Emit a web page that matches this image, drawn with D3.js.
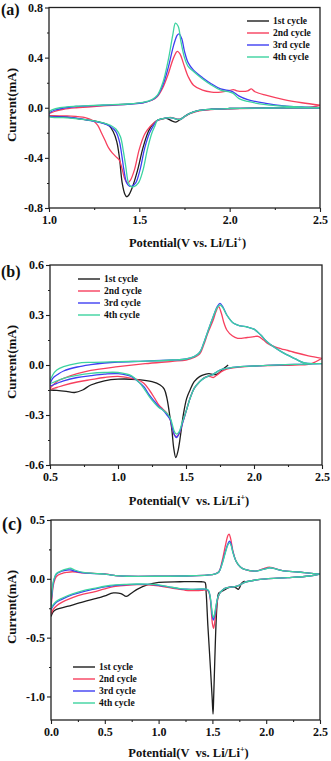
<!DOCTYPE html>
<html>
<head>
<meta charset="utf-8">
<script src="https://cdn.jsdelivr.net/npm/d3@7"></script>
<style>
  html, body { margin: 0; padding: 0; background: #fff; }
  svg { display: block; font-family: "Liberation Serif", "Times New Roman", serif; font-weight: bold; }
</style>
</head>
<body>
<svg width="331" height="761"></svg>
<script>
const CYCLES = ['1st cycle', '2nd cycle', '3rd cycle', '4th cycle'];
const COLORS = ['#1e1e1e', '#f7405e', '#3e3ef2', '#3dd3a0'];

// ---------- panel (a) : [potential V, current mA], scan order ----------
const a1 = [[2.5,0.0],[2.2,-0.002],[2.0,-0.006],[1.9,-0.012],[1.82,-0.025],[1.78,-0.045],[1.75,-0.07],[1.72,-0.1],[1.70,-0.115],[1.68,-0.105],[1.65,-0.085],[1.62,-0.09],[1.6,-0.1],[1.57,-0.14],[1.55,-0.19],[1.52,-0.32],[1.49,-0.5],[1.46,-0.64],[1.44,-0.7],[1.43,-0.71],[1.42,-0.69],[1.405,-0.6],[1.39,-0.4],[1.375,-0.27],[1.355,-0.19],[1.33,-0.14],[1.28,-0.115],[1.2,-0.095],[1.1,-0.075],[1.0,-0.065]];
const a2 = [[2.5,0.02],[2.45,0.005],[2.3,-0.002],[2.0,-0.008],[1.9,-0.014],[1.82,-0.028],[1.78,-0.048],[1.75,-0.072],[1.73,-0.09],[1.71,-0.09],[1.68,-0.078],[1.65,-0.08],[1.62,-0.092],[1.6,-0.1],[1.56,-0.15],[1.53,-0.21],[1.5,-0.33],[1.472,-0.5],[1.45,-0.58],[1.435,-0.6],[1.42,-0.57],[1.405,-0.49],[1.39,-0.42],[1.37,-0.39],[1.35,-0.36],[1.33,-0.32],[1.31,-0.26],[1.29,-0.2],[1.27,-0.14],[1.24,-0.1],[1.2,-0.078],[1.1,-0.065],[1.0,-0.06],[1.0,-0.05],[1.03,-0.03],[1.08,-0.012],[1.15,0.0],[1.3,0.015],[1.45,0.03],[1.52,0.04],[1.57,0.06],[1.6,0.09],[1.63,0.16],[1.66,0.27],[1.69,0.4],[1.71,0.45],[1.725,0.43],[1.745,0.35],[1.77,0.25],[1.8,0.18],[1.85,0.14],[1.9,0.125],[1.95,0.125],[2.0,0.138],[2.02,0.145],[2.04,0.135],[2.07,0.13],[2.1,0.135],[2.12,0.15],[2.14,0.128],[2.2,0.1],[2.3,0.065],[2.4,0.04],[2.5,0.02]];
const a3 = [[2.5,0.0],[2.2,-0.002],[2.0,-0.006],[1.9,-0.012],[1.82,-0.025],[1.78,-0.045],[1.75,-0.07],[1.73,-0.09],[1.71,-0.092],[1.68,-0.08],[1.65,-0.08],[1.62,-0.09],[1.6,-0.1],[1.575,-0.15],[1.557,-0.2],[1.53,-0.32],[1.503,-0.5],[1.48,-0.6],[1.46,-0.625],[1.445,-0.625],[1.43,-0.6],[1.415,-0.5],[1.405,-0.4],[1.39,-0.27],[1.37,-0.19],[1.34,-0.15],[1.3,-0.125],[1.2,-0.095],[1.1,-0.075],[1.0,-0.065],[1.0,-0.045],[1.03,-0.02],[1.08,-0.002],[1.15,0.01],[1.3,0.02],[1.45,0.03],[1.52,0.04],[1.57,0.062],[1.6,0.095],[1.63,0.18],[1.66,0.32],[1.69,0.5],[1.71,0.58],[1.72,0.59],[1.735,0.55],[1.75,0.45],[1.77,0.36],[1.8,0.3],[1.85,0.24],[1.9,0.19],[1.95,0.15],[2.0,0.135],[2.02,0.125],[2.05,0.095],[2.1,0.065],[2.2,0.035],[2.3,0.015],[2.4,0.006],[2.5,0.0]];
const a4 = [[2.5,0.0],[2.2,-0.002],[2.0,-0.006],[1.9,-0.012],[1.82,-0.025],[1.78,-0.045],[1.75,-0.07],[1.73,-0.09],[1.71,-0.092],[1.68,-0.08],[1.65,-0.08],[1.62,-0.09],[1.6,-0.1],[1.585,-0.15],[1.57,-0.2],[1.545,-0.33],[1.52,-0.5],[1.495,-0.6],[1.47,-0.63],[1.455,-0.63],[1.44,-0.6],[1.425,-0.47],[1.412,-0.35],[1.395,-0.23],[1.37,-0.17],[1.34,-0.14],[1.3,-0.12],[1.2,-0.095],[1.1,-0.08],[1.0,-0.07],[1.0,-0.035],[1.02,-0.015],[1.06,0.0],[1.15,0.012],[1.3,0.022],[1.45,0.032],[1.52,0.042],[1.57,0.065],[1.6,0.1],[1.63,0.2],[1.66,0.38],[1.685,0.58],[1.70,0.675],[1.715,0.65],[1.73,0.53],[1.75,0.4],[1.77,0.33],[1.8,0.29],[1.85,0.23],[1.9,0.18],[1.95,0.14],[2.0,0.125],[2.02,0.115],[2.05,0.075],[2.1,0.05],[2.2,0.025],[2.3,0.012],[2.4,0.005],[2.5,0.0]];

// ---------- panel (b) ----------
const b1 = [[1.81,0.0],[1.78,-0.02],[1.76,-0.035],[1.73,-0.055],[1.70,-0.058],[1.67,-0.052],[1.64,-0.056],[1.6,-0.07],[1.56,-0.1],[1.53,-0.15],[1.505,-0.2],[1.48,-0.3],[1.46,-0.42],[1.44,-0.52],[1.425,-0.555],[1.41,-0.5],[1.395,-0.38],[1.38,-0.3],[1.36,-0.2],[1.34,-0.145],[1.31,-0.12],[1.25,-0.1],[1.15,-0.088],[1.0,-0.085],[0.9,-0.095],[0.8,-0.12],[0.74,-0.15],[0.68,-0.165],[0.62,-0.158],[0.55,-0.152],[0.5,-0.15]];
const b2 = [[2.5,0.04],[2.45,0.018],[2.4,0.004],[2.3,0.0],[2.1,-0.003],[2.0,-0.006],[1.9,-0.012],[1.8,-0.025],[1.76,-0.04],[1.72,-0.065],[1.7,-0.075],[1.68,-0.07],[1.65,-0.07],[1.62,-0.085],[1.6,-0.1],[1.56,-0.14],[1.53,-0.2],[1.5,-0.28],[1.47,-0.36],[1.45,-0.41],[1.43,-0.43],[1.415,-0.42],[1.4,-0.38],[1.385,-0.33],[1.36,-0.29],[1.33,-0.265],[1.3,-0.24],[1.27,-0.2],[1.23,-0.15],[1.19,-0.11],[1.15,-0.09],[1.1,-0.08],[1.0,-0.068],[0.9,-0.075],[0.8,-0.088],[0.7,-0.102],[0.6,-0.122],[0.55,-0.135],[0.5,-0.145],[0.55,-0.1],[0.6,-0.08],[0.7,-0.052],[0.8,-0.032],[1.0,-0.01],[1.2,0.008],[1.4,0.022],[1.5,0.03],[1.56,0.045],[1.6,0.065],[1.63,0.12],[1.66,0.19],[1.7,0.27],[1.72,0.32],[1.74,0.35],[1.76,0.31],[1.78,0.25],[1.8,0.21],[1.84,0.175],[1.88,0.16],[1.95,0.165],[2.0,0.17],[2.03,0.172],[2.07,0.15],[2.1,0.13],[2.15,0.11],[2.2,0.097],[2.25,0.087],[2.3,0.075],[2.4,0.055],[2.5,0.04]];
const b3 = [[2.5,0.008],[2.3,0.004],[2.1,-0.002],[2.0,-0.006],[1.9,-0.01],[1.8,-0.02],[1.75,-0.03],[1.72,-0.045],[1.69,-0.06],[1.66,-0.068],[1.63,-0.08],[1.6,-0.1],[1.56,-0.14],[1.53,-0.2],[1.5,-0.28],[1.47,-0.36],[1.45,-0.41],[1.43,-0.435],[1.415,-0.42],[1.4,-0.38],[1.385,-0.33],[1.36,-0.3],[1.33,-0.27],[1.3,-0.25],[1.27,-0.22],[1.23,-0.18],[1.19,-0.13],[1.15,-0.1],[1.1,-0.07],[1.0,-0.052],[0.9,-0.055],[0.8,-0.064],[0.7,-0.075],[0.6,-0.095],[0.55,-0.11],[0.5,-0.125],[0.52,-0.08],[0.56,-0.055],[0.6,-0.036],[0.7,-0.012],[0.8,0.002],[0.9,0.012],[1.0,0.018],[1.2,0.023],[1.4,0.03],[1.5,0.036],[1.56,0.05],[1.6,0.075],[1.63,0.13],[1.66,0.2],[1.7,0.29],[1.73,0.35],[1.75,0.37],[1.77,0.35],[1.8,0.3],[1.85,0.25],[1.9,0.235],[1.95,0.228],[2.0,0.215],[2.05,0.18],[2.1,0.136],[2.2,0.08],[2.3,0.038],[2.37,0.012],[2.45,0.008],[2.5,0.008]];
const b4 = [[2.5,0.008],[2.3,0.004],[2.1,-0.002],[2.0,-0.006],[1.9,-0.01],[1.8,-0.02],[1.75,-0.03],[1.72,-0.045],[1.69,-0.06],[1.66,-0.068],[1.63,-0.08],[1.6,-0.1],[1.56,-0.14],[1.53,-0.2],[1.5,-0.28],[1.47,-0.35],[1.45,-0.4],[1.43,-0.415],[1.415,-0.4],[1.4,-0.36],[1.385,-0.32],[1.36,-0.29],[1.33,-0.27],[1.3,-0.255],[1.27,-0.23],[1.23,-0.19],[1.19,-0.14],[1.15,-0.1],[1.1,-0.065],[1.0,-0.045],[0.9,-0.045],[0.8,-0.05],[0.7,-0.062],[0.6,-0.08],[0.55,-0.095],[0.5,-0.11],[0.52,-0.06],[0.55,-0.03],[0.6,-0.01],[0.7,0.01],[0.8,0.016],[1.0,0.02],[1.2,0.023],[1.4,0.03],[1.5,0.036],[1.56,0.05],[1.6,0.075],[1.63,0.13],[1.66,0.2],[1.7,0.29],[1.73,0.345],[1.75,0.36],[1.77,0.345],[1.8,0.3],[1.85,0.25],[1.9,0.235],[1.95,0.228],[2.0,0.215],[2.05,0.18],[2.1,0.136],[2.2,0.08],[2.3,0.038],[2.37,0.012],[2.45,0.008],[2.5,0.008]];

// ---------- panel (c) ----------
const c1 = [[1.8,-0.02],[1.77,-0.04],[1.755,-0.07],[1.74,-0.09],[1.725,-0.08],[1.7,-0.068],[1.65,-0.075],[1.6,-0.1],[1.56,-0.12],[1.545,-0.2],[1.533,-0.4],[1.522,-0.7],[1.512,-1.0],[1.506,-1.15],[1.497,-1.0],[1.478,-0.7],[1.458,-0.4],[1.442,-0.12],[1.431,-0.03],[1.4,-0.025],[1.2,-0.025],[1.0,-0.03],[0.9,-0.05],[0.8,-0.09],[0.75,-0.12],[0.7,-0.15],[0.65,-0.125],[0.58,-0.12],[0.5,-0.145],[0.45,-0.16],[0.3,-0.195],[0.15,-0.235],[0.05,-0.26],[0.02,-0.28],[0.0,-0.32]];
const c2 = [[2.5,0.04],[2.4,0.024],[2.2,0.01],[2.0,0.0],[1.9,-0.01],[1.8,-0.03],[1.76,-0.05],[1.72,-0.065],[1.68,-0.07],[1.64,-0.075],[1.6,-0.09],[1.57,-0.12],[1.55,-0.17],[1.535,-0.26],[1.52,-0.38],[1.51,-0.42],[1.5,-0.38],[1.49,-0.28],[1.48,-0.17],[1.465,-0.11],[1.445,-0.095],[1.4,-0.098],[1.35,-0.1],[1.3,-0.1],[1.25,-0.097],[1.2,-0.09],[1.1,-0.075],[1.0,-0.06],[0.9,-0.052],[0.8,-0.05],[0.7,-0.055],[0.6,-0.065],[0.5,-0.085],[0.4,-0.11],[0.3,-0.13],[0.2,-0.16],[0.1,-0.2],[0.05,-0.23],[0.02,-0.26],[0.0,-0.3],[0.01,-0.15],[0.025,-0.04],[0.05,0.02],[0.1,0.045],[0.15,0.055],[0.2,0.06],[0.25,0.055],[0.3,0.05],[0.4,0.046],[0.5,0.042],[0.55,0.035],[0.6,0.027],[0.7,0.022],[1.0,0.022],[1.3,0.026],[1.45,0.032],[1.52,0.04],[1.56,0.06],[1.59,0.15],[1.62,0.28],[1.645,0.37],[1.655,0.38],[1.67,0.34],[1.69,0.24],[1.72,0.15],[1.76,0.1],[1.8,0.08],[1.9,0.065],[1.97,0.085],[2.03,0.1],[2.07,0.09],[2.15,0.07],[2.3,0.058],[2.4,0.048],[2.5,0.04]];
const c3 = [[2.5,0.04],[2.4,0.024],[2.2,0.01],[2.0,0.0],[1.9,-0.01],[1.8,-0.03],[1.76,-0.05],[1.72,-0.065],[1.68,-0.07],[1.64,-0.075],[1.6,-0.09],[1.57,-0.12],[1.55,-0.16],[1.535,-0.23],[1.52,-0.32],[1.51,-0.35],[1.5,-0.32],[1.49,-0.24],[1.48,-0.16],[1.465,-0.105],[1.445,-0.09],[1.4,-0.088],[1.3,-0.09],[1.25,-0.088],[1.2,-0.085],[1.1,-0.07],[1.0,-0.055],[0.9,-0.048],[0.8,-0.047],[0.7,-0.05],[0.6,-0.055],[0.5,-0.068],[0.4,-0.088],[0.3,-0.108],[0.2,-0.135],[0.1,-0.175],[0.05,-0.2],[0.02,-0.23],[0.0,-0.26],[0.01,-0.12],[0.025,-0.02],[0.05,0.04],[0.1,0.065],[0.15,0.075],[0.19,0.075],[0.22,0.065],[0.3,0.05],[0.4,0.045],[0.5,0.04],[0.55,0.034],[0.6,0.027],[0.7,0.022],[1.0,0.022],[1.3,0.026],[1.45,0.032],[1.52,0.04],[1.56,0.058],[1.59,0.13],[1.62,0.23],[1.645,0.3],[1.66,0.32],[1.675,0.29],[1.69,0.23],[1.72,0.15],[1.76,0.1],[1.8,0.08],[1.9,0.065],[1.97,0.08],[2.03,0.093],[2.07,0.088],[2.15,0.07],[2.3,0.058],[2.4,0.048],[2.5,0.04]];
const c4 = [[2.5,0.04],[2.4,0.024],[2.2,0.01],[2.0,0.0],[1.9,-0.01],[1.8,-0.03],[1.76,-0.05],[1.72,-0.065],[1.68,-0.07],[1.64,-0.075],[1.6,-0.09],[1.57,-0.12],[1.55,-0.16],[1.535,-0.22],[1.52,-0.3],[1.51,-0.33],[1.5,-0.3],[1.49,-0.23],[1.48,-0.155],[1.465,-0.1],[1.445,-0.088],[1.4,-0.086],[1.3,-0.09],[1.25,-0.088],[1.2,-0.083],[1.1,-0.068],[1.0,-0.052],[0.9,-0.045],[0.8,-0.044],[0.7,-0.047],[0.6,-0.052],[0.5,-0.063],[0.4,-0.082],[0.3,-0.1],[0.2,-0.128],[0.1,-0.165],[0.05,-0.19],[0.02,-0.22],[0.0,-0.25],[0.01,-0.1],[0.025,-0.01],[0.05,0.045],[0.1,0.07],[0.15,0.085],[0.18,0.09],[0.22,0.075],[0.3,0.055],[0.4,0.046],[0.5,0.04],[0.55,0.034],[0.6,0.027],[0.7,0.022],[1.0,0.022],[1.3,0.026],[1.45,0.032],[1.52,0.04],[1.56,0.058],[1.59,0.125],[1.62,0.22],[1.645,0.29],[1.66,0.305],[1.675,0.28],[1.69,0.225],[1.72,0.15],[1.76,0.1],[1.8,0.08],[1.9,0.065],[1.97,0.08],[2.04,0.094],[2.08,0.086],[2.15,0.07],[2.3,0.058],[2.4,0.048],[2.5,0.04]];

// ---------- axes ----------
const aXTicks = [1.0, 1.5, 2.0, 2.5];
const aYTicks = [-0.8, -0.4, 0.0, 0.4, 0.8];
const bXTicks = [0.5, 1.0, 1.5, 2.0, 2.5];
const bYTicks = [-0.6, -0.3, 0.0, 0.3, 0.6];
const cXTicks = [0.0, 0.5, 1.0, 1.5, 2.0, 2.5];
const cYTicks = [-1.0, -0.5, 0.0, 0.5];

const panels = [
  { tag: '(a)', series: [a1, a2, a3, a4], xDomain: [1.0, 2.5], yDomain: [-0.8, 0.8],
    xTicks: aXTicks, yTicks: aYTicks, box: [49, 320, 7.5, 208],
    tagPos: [1, 15, 16], yLabelY: 105, xLabelY: 247, xTitleGap: ' ',
    legend: [247, 21] },
  { tag: '(b)', series: [b1, b2, b3, b4], xDomain: [0.5, 2.5], yDomain: [-0.6, 0.6],
    xTicks: bXTicks, yTicks: bYTicks, box: [50, 322, 265, 465],
    tagPos: [1, 277, 16], yLabelY: 362, xLabelY: 505, xTitleGap: '  ',
    legend: [78, 279] },
  { tag: '(c)', series: [c1, c2, c3, c4], xDomain: [0.0, 2.5], yDomain: [-1.2, 0.5],
    xTicks: cXTicks, yTicks: cYTicks, box: [51, 320, 520, 720],
    tagPos: [2, 530, 18], yLabelY: 607, xLabelY: 757, xTitleGap: '  ',
    legend: [73, 667] },
];

const svg = d3.select('svg');
const fmt = (d) => d.toFixed(1);

const midpoints = (ticks) => d3.pairs(ticks).map(([p, q]) => (p + q) / 2);

panels.forEach((p, i) => {
  const [left, right, top, bottom] = p.box;
  const x = d3.scaleLinear().domain(p.xDomain).range([left, right]);
  const y = d3.scaleLinear().domain(p.yDomain).range([bottom, top]);
  const g = svg.append('g');

  g.append('clipPath')
    .attr('id', `clip${i}`)
    .append('rect')
    .attr('x', left)
    .attr('y', top)
    .attr('width', right - left)
    .attr('height', bottom - top);

  // ---------- curves ----------
  const line = d3
    .line()
    .x(([v]) => x(v))
    .y(([, c]) => y(c))
    .curve(d3.curveCatmullRom.alpha(0.5));

  g.append('g')
    .attr('clip-path', `url(#clip${i})`)
    .selectAll('path')
    .data(p.series)
    .join('path')
    .attr('d', line)
    .attr('fill', 'none')
    .attr('stroke', (_, k) => COLORS[k])
    .attr('stroke-width', 1.3)
    .attr('stroke-linejoin', 'round');

  // ---------- axes ----------
  const xAxis = g.append('g')
    .attr('transform', `translate(0,${bottom})`)
    .call(d3.axisBottom(x).tickValues(p.xTicks).tickFormat(fmt).tickSize(4).tickSizeOuter(0).tickPadding(3));
  g.append('g')
    .attr('transform', `translate(0,${bottom})`)
    .call(d3.axisBottom(x).tickValues(midpoints(p.xTicks)).tickFormat('').tickSize(2).tickSizeOuter(0));

  const yAxis = g.append('g')
    .attr('transform', `translate(${left},0)`)
    .call(d3.axisLeft(y).tickValues(p.yTicks).tickFormat(fmt).tickSize(4).tickSizeOuter(0).tickPadding(2));
  g.append('g')
    .attr('transform', `translate(${left},0)`)
    .call(d3.axisLeft(y).tickValues(midpoints(p.yTicks)).tickFormat('').tickSize(2).tickSizeOuter(0));

  g.selectAll('.domain').remove();
  g.selectAll('.tick line').attr('stroke', '#222').attr('stroke-width', 1.1);
  [xAxis, yAxis].forEach((a) =>
    a.selectAll('text')
      .attr('fill', '#111')
      .style('font-family', '"Liberation Serif", "Times New Roman", serif')
      .style('font-weight', 'bold')
      .style('font-size', '12px')
  );

  g.append('rect')
    .attr('x', left)
    .attr('y', top)
    .attr('width', right - left)
    .attr('height', bottom - top)
    .attr('fill', 'none')
    .attr('stroke', '#222')
    .attr('stroke-width', 1.3);

  // ---------- titles ----------
  g.append('text')
    .attr('x', p.tagPos[0])
    .attr('y', p.tagPos[1])
    .attr('font-size', p.tagPos[2])
    .attr('fill', '#111')
    .text(p.tag);

  g.append('text')
    .attr('transform', `translate(16,${p.yLabelY}) rotate(-90)`)
    .attr('text-anchor', 'middle')
    .attr('font-size', 13)
    .attr('fill', '#111')
    .text('Current(mA)');

  const xt = g.append('text')
    .attr('x', (left + right) / 2 + 3)
    .attr('y', p.xLabelY)
    .attr('text-anchor', 'middle')
    .attr('font-size', 12.5)
    .attr('fill', '#111')
    .style('white-space', 'pre');
  xt.append('tspan').text(`Potential(V${p.xTitleGap}vs. Li/Li`);
  xt.append('tspan').attr('dy', -5).attr('font-size', 8).text('+');
  xt.append('tspan').attr('dy', 5).text(')');

  // ---------- legend ----------
  const [lx, ly] = p.legend;
  const rows = g.append('g')
    .selectAll('g')
    .data(CYCLES)
    .join('g')
    .attr('transform', (_, k) => `translate(${lx},${ly + k * 12})`);
  rows.append('line')
    .attr('x1', 0)
    .attr('x2', 22)
    .attr('stroke', (_, k) => COLORS[k])
    .attr('stroke-width', 1.4);
  rows.append('text')
    .attr('x', 26)
    .attr('dy', '0.33em')
    .attr('font-size', 9.5)
    .attr('fill', '#111')
    .text((d) => d);
});
</script>
</body>
</html>
